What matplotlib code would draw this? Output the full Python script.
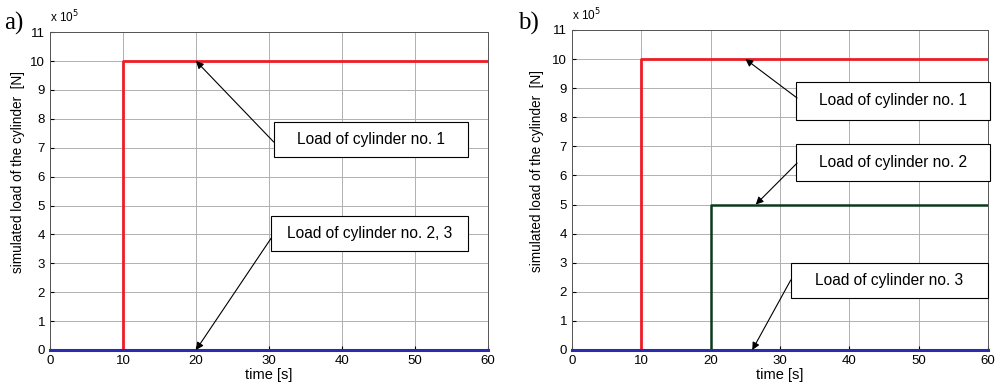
import matplotlib.pyplot as plt
from matplotlib.patches import Rectangle

plt.rcParams['font.family'] = ['Liberation Sans', 'DejaVu Sans']

# data (load in N, time in s)
t = [0, 10, 20, 60]
load_a1 = [0, 1e6, 1e6, 1e6]
load_a23 = [0, 0, 0, 0]
load_b1 = [0, 1e6, 1e6, 1e6]
load_b2 = [0, 0, 5e5, 5e5]
load_b3 = [0, 0, 0, 0]
scale = 1e5

fig = plt.figure(figsize=(9.96, 3.9), dpi=100)
ax1 = fig.add_axes([0.0502, 0.1026, 0.4398, 0.815])
ax2 = fig.add_axes([0.5743, 0.1026, 0.4177, 0.8205])


def style(ax, lx):
    ax.set_xlim(0, 60)
    ax.set_ylim(0, 11)
    ax.set_xticks(range(0, 61, 10))
    ax.set_yticks(range(0, 12))
    ax.grid(True, color='#b0b0b0', lw=0.7)
    ax.set_axisbelow(True)
    ax.tick_params(direction='in', length=3, labelsize=9.5, colors='black')
    for s in ax.spines.values():
        s.set_color('#555555')
        s.set_linewidth(0.7)
    ax.text(0.0, 1.03, 'x 10$^5$', transform=ax.transAxes, fontsize=8.5)
    ax.set_xlabel('time [s]', fontsize=10.5, labelpad=1)
    ax.set_ylabel('simulated load of the cylinder  [N]', fontsize=9.8)
    ax.yaxis.set_label_coords(lx, 0.56)


def box(ax, x0, y0, x1, y1, txt, tail, tip):
    ax.add_patch(Rectangle((x0, y0), x1 - x0, y1 - y0, transform=ax.transAxes,
                           fill=True, fc='white', ec='black', lw=0.8,
                           clip_on=False, zorder=5))
    ax.text((x0 + x1) / 2, (y0 + y1) / 2, txt, transform=ax.transAxes,
            ha='center', va='center', fontsize=11.2, zorder=6)
    ax.annotate('', xy=tip, xycoords='data', xytext=tail,
                textcoords='axes fraction',
                arrowprops=dict(arrowstyle='-|>', color='black', lw=0.8,
                                mutation_scale=11, shrinkA=0, shrinkB=0),
                zorder=6)


style(ax1, -0.058)
ax1.plot(t, [v / scale for v in load_a1], color='#ee1c25', lw=2, drawstyle='steps-post')
ax1.plot(t, [v / scale for v in load_a23], color='#2b2bb0', lw=2.2, drawstyle='steps-post',
         clip_on=False, zorder=3)
box(ax1, 0.511, 0.606, 0.955, 0.717, 'Load of cylinder no. 1', (0.511, 0.654), (20, 10))
box(ax1, 0.505, 0.311, 0.955, 0.421, 'Load of cylinder no. 2, 3', (0.505, 0.352), (20, 0))
fig.text(0.004, 0.925, 'a)', fontsize=18, family='Liberation Serif')

style(ax2, -0.068)
ax2.plot(t, [v / scale for v in load_b1], color='#ee1c25', lw=2, drawstyle='steps-post')
ax2.plot(t, [v / scale for v in load_b2], color='#0a3a1a', lw=1.8, drawstyle='steps-post')
ax2.plot(t, [v / scale for v in load_b3], color='#2b2bb0', lw=2.2, drawstyle='steps-post',
         clip_on=False, zorder=3)
box(ax2, 0.538, 0.719, 1.005, 0.8375, 'Load of cylinder no. 1', (0.541, 0.7875), (25, 10))
box(ax2, 0.538, 0.528, 1.005, 0.644, 'Load of cylinder no. 2', (0.541, 0.584), (26.5, 5))
box(ax2, 0.526, 0.1625, 1.0, 0.272, 'Load of cylinder no. 3', (0.526, 0.219), (26, 0))
fig.text(0.52, 0.925, 'b)', fontsize=18, family='Liberation Serif')

fig.savefig('out.png', dpi=100)
